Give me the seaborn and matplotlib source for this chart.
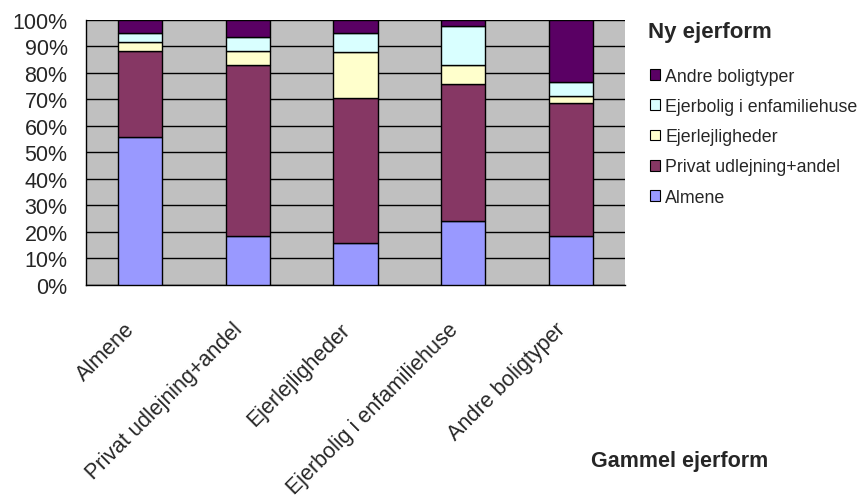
import numpy as np
import matplotlib
matplotlib.use('Agg')
import matplotlib.pyplot as plt
import matplotlib.transforms as mtransforms
import seaborn as sns
from matplotlib.patches import Patch
from matplotlib.ticker import FixedLocator, PercentFormatter

# Gammel ejerform (x categories)
categories = ['Almene', 'Privat udlejning+andel', 'Ejerlejligheder',
              'Ejerbolig i enfamiliehuse', 'Andre boligtyper']

# Ny ejerform (stacked series, bottom -> top), shares in %
almene = [55.7, 18.5, 15.7, 24.2, 18.3]
privat = [32.5, 64.2, 54.7, 51.6, 50.2]
ejerlejl = [3.4, 5.6, 17.3, 6.9, 2.7]
ejerbolig = [3.4, 5.0, 7.3, 15.0, 5.3]
andre = [5.0, 6.7, 5.0, 2.3, 23.5]

series_names = ['Almene', 'Privat udlejning+andel', 'Ejerlejligheder',
                'Ejerbolig i enfamiliehuse', 'Andre boligtyper']
series_values = [almene, privat, ejerlejl, ejerbolig, andre]
colors = ['#9999FF', '#863764', '#FFFFCC', '#D9FFFF', '#5A0064']

sns.set_style('white')
plt.rcParams['font.family'] = ['Liberation Sans', 'DejaVu Sans']

W, H = 867, 502
fig = plt.figure(figsize=(W / 100, H / 100), dpi=100)
ax = fig.add_axes([86 / W, 1 - 286 / H, (625 - 86) / W, (286 - 20.5) / H])
ax.set_facecolor('#C0C0C0')

bottom = np.zeros(len(categories))
for name, vals, col in zip(series_names, series_values, colors):
    sns.barplot(x=categories, y=vals, bottom=bottom, color=col, width=0.41,
                edgecolor='black', linewidth=1.0, ax=ax, zorder=3,
                saturation=1)
    bottom = bottom + np.array(vals)

ax.set_ylim(0, 100)
ax.set_xlim(-0.5, len(categories) - 0.5)
ax.yaxis.set_major_locator(FixedLocator(np.arange(0, 101, 10)))
ax.yaxis.set_major_formatter(PercentFormatter(decimals=0))
ax.grid(axis='y', color='black', linewidth=1.0, zorder=1)
ax.set_axisbelow(True)

for side in ['top', 'right']:
    ax.spines[side].set_visible(False)
for side in ['left', 'bottom']:
    ax.spines[side].set_color('black')
    ax.spines[side].set_linewidth(1.0)

ax.tick_params(axis='y', which='major', direction='out', length=4.3, width=1,
               color='black', labelsize=15.5, pad=9)
ax.set_xticks(range(len(categories)))
ax.set_xticklabels(categories, rotation=45, ha='right', va='center',
                   rotation_mode='anchor', fontsize=15.5)
ax.tick_params(axis='x', which='major', length=0, pad=0)
# shift rotated labels so their upper-right end sits just below each bar
offset = mtransforms.ScaledTranslation(-0.085, -0.41, fig.dpi_scale_trans)
for lbl in ax.get_xticklabels():
    lbl.set_transform(lbl.get_transform() + offset)
ax.set_xticks(np.arange(-0.5, len(categories), 1.0), minor=True)
ax.tick_params(axis='x', which='minor', direction='out', length=4.5, width=1,
               color='black')
ax.set_xlabel('')
ax.set_ylabel('')

fig.text(680 / W, 1 - 462 / H, 'Gammel ejerform', fontsize=15.5,
         fontweight='bold', ha='center', va='center')
fig.text(648 / W, 1 - 33 / H, 'Ny ejerform', fontsize=16,
         fontweight='bold', ha='left', va='center')

handles = [Patch(facecolor=c, edgecolor='black', linewidth=0.8, label=n)
           for n, c in zip(series_names, colors)][::-1]
fig.legend(handles=handles, loc='upper left',
           bbox_to_anchor=(650 / W, 1 - 69 / H), frameon=False,
           fontsize=12.8, borderpad=0, borderaxespad=0,
           handlelength=0.56, handleheight=0.56, handletextpad=0.3,
           labelspacing=0.74)

fig.savefig('out.png', dpi=100)
